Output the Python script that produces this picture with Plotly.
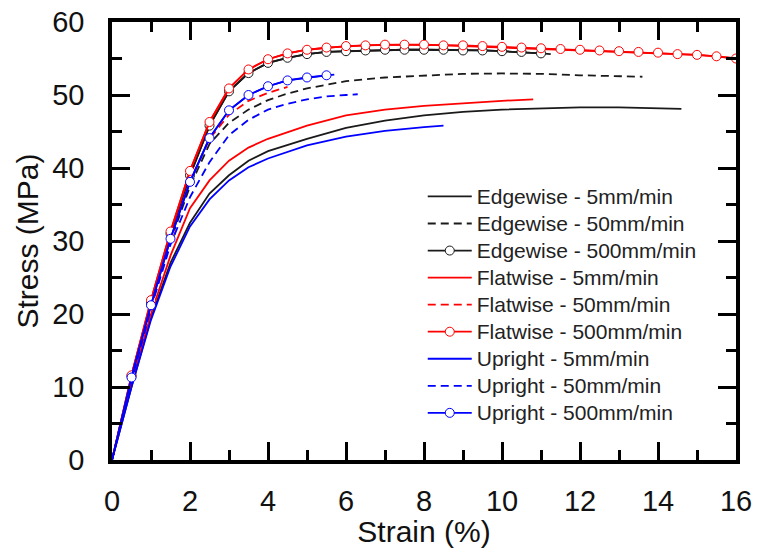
import plotly.graph_objects as go

# ---- data (strain %, stress MPa) ----
edge5_x = [0, 0.5, 1.0, 1.5, 2.0, 2.5, 3.0, 3.5, 4.0, 5, 6, 7, 8, 9, 10, 11, 12, 13, 14, 14.6]
edge5_y = [0, 10, 19.5, 27, 32.5, 36.5, 39, 41, 42.3, 44, 45.5, 46.5, 47.2, 47.7, 48, 48.2, 48.3, 48.3, 48.2, 48.1]

edge50_x = [0, 0.5, 1, 1.5, 2, 2.5, 3, 3.5, 4, 4.5, 5, 6, 7, 8, 9, 10, 11, 12, 13, 13.6]
edge50_y = [0, 11, 21, 30, 37.5, 43.3, 46.2, 48, 49.3, 50.2, 50.9, 51.9, 52.4, 52.7, 52.9, 52.95, 52.9, 52.7, 52.6, 52.5]

edge500_x = [0, 0.5, 1, 1.5, 2, 2.5, 3, 3.5, 4, 4.5, 5, 5.5, 6, 6.5, 7, 7.5, 8, 8.5, 9, 9.5, 10, 10.5, 11, 11.25]
edge500_y = [0, 11.5, 21.5, 31, 39, 45.8, 50.5, 53.0, 54.4, 55.1, 55.6, 55.9, 56.0, 56.1, 56.2, 56.2, 56.2, 56.2, 56.1, 56.1, 56.0, 55.9, 55.7, 55.6]

flat5_x = [0, 0.5, 1.0, 1.5, 2.0, 2.5, 3.0, 3.5, 4.0, 5, 6, 7, 8, 9, 10, 10.8]
flat5_y = [0, 10.5, 20, 28, 34.5, 38.3, 41, 42.8, 44, 45.8, 47.2, 48.0, 48.5, 48.9, 49.2, 49.4]

flat50_x = [0, 0.5, 1, 1.5, 2, 2.5, 3, 3.5, 4, 4.5]
flat50_y = [0, 11.2, 21.3, 30.5, 38.2, 44, 47.3, 49.2, 50.3, 51.1]

flat500_x = [0, 0.5, 1, 1.5, 2, 2.5, 3, 3.5, 4, 4.5, 5, 5.5, 6, 6.5, 7, 7.5, 8, 8.5, 9, 9.5,
             10, 10.5, 11, 11.5, 12, 12.5, 13, 13.5, 14, 14.5, 15, 15.5, 16]
flat500_y = [0, 11.6, 21.9, 31.3, 39.6, 46.3, 50.9, 53.5, 54.9, 55.7, 56.2, 56.5, 56.7, 56.8, 56.9, 56.9, 56.9, 56.8, 56.8, 56.7,
             56.6, 56.5, 56.4, 56.3, 56.2, 56.1, 56.0, 55.9, 55.8, 55.6, 55.5, 55.3, 55.0]

up5_x = [0, 0.5, 1.0, 1.5, 2.0, 2.5, 3.0, 3.5, 4.0, 5, 6, 7, 8, 8.5]
up5_y = [0, 10, 19.2, 26.5, 32, 35.7, 38.3, 40.1, 41.3, 43.1, 44.3, 45.1, 45.6, 45.8]

up50_x = [0, 0.5, 1, 1.5, 2, 2.5, 3, 3.5, 4, 4.5, 5, 5.5, 6, 6.3]
up50_y = [0, 10.8, 20.8, 29.5, 36, 40.8, 44.5, 46.6, 48, 48.8, 49.4, 49.8, 50.0, 50.1]

up500_x = [0, 0.5, 1, 1.5, 2, 2.5, 3, 3.5, 4, 4.5, 5, 5.5, 5.7]
up500_y = [0, 11.3, 21.2, 30.3, 38.1, 44.1, 47.9, 50.0, 51.2, 52.0, 52.4, 52.7, 52.8]

x_ticks = [0, 2, 4, 6, 8, 10, 12, 14, 16]
y_ticks = [0, 10, 20, 30, 40, 50, 60]

BLACK = "#1a1a1a"
RED = "#ff0000"
BLUE = "#0000ff"
DASH = "8px,5px"
FONT = "Liberation Sans, Arial, sans-serif"

series = [
    ("Edgewise - 5mm/min", edge5_x, edge5_y, BLACK, "solid", False),
    ("Edgewise - 50mm/min", edge50_x, edge50_y, BLACK, DASH, False),
    ("Edgewise - 500mm/min", edge500_x, edge500_y, BLACK, "solid", True),
    ("Flatwise - 5mm/min", flat5_x, flat5_y, RED, "solid", False),
    ("Flatwise - 50mm/min", flat50_x, flat50_y, RED, DASH, False),
    ("Flatwise - 500mm/min", flat500_x, flat500_y, RED, "solid", True),
    ("Upright - 5mm/min", up5_x, up5_y, BLUE, "solid", False),
    ("Upright - 50mm/min", up50_x, up50_y, BLUE, DASH, False),
    ("Upright - 500mm/min", up500_x, up500_y, BLUE, "solid", True),
]


def label(name):
    return '<span style="font-size:21px">' + name + '</span>'


fig = go.Figure()
for name, xs, ys, col, dash, mk in series:
    if not mk:
        fig.add_trace(go.Scatter(x=xs, y=ys, name=label(name), mode="lines",
                                 line=dict(color=col, width=1.8, dash=dash)))
    else:
        fig.add_trace(go.Scatter(x=xs, y=ys, mode="lines", showlegend=False,
                                 legendgroup=name, hoverinfo="skip",
                                 line=dict(color=col, width=1.8)))
        mx = [v for v in xs if v > 0 and abs(v * 2 - round(v * 2)) < 1e-9]
        my = [ys[xs.index(v)] for v in mx]
        fig.add_trace(go.Scatter(x=mx, y=my, name=label(name), legendgroup=name,
                                 mode="lines+markers",
                                 line=dict(color=col, width=1.8),
                                 marker=dict(symbol="circle", size=9, color="white",
                                             line=dict(color=col, width=1))))

axis_common = dict(
    showline=True, linecolor="black", linewidth=3.5, mirror="ticks",
    ticks="inside", ticklen=18, tickwidth=3, tickcolor="black",
    showgrid=False, zeroline=False, ticklabeloverflow="allow",
    tickfont=dict(family=FONT, size=29, color="#111111"),
)

fig.update_xaxes(range=[0, 16], tickmode="array", tickvals=x_ticks, ticktext=[str(v) for v in x_ticks],
                 minor=dict(ticks="inside", ticklen=10, tickwidth=3, tickcolor="black",
                            tickmode="linear", tick0=0, dtick=1, showgrid=False),
                 ticklabelstandoff=12,
                 title=dict(text="Strain (%)", font=dict(family=FONT, size=30, color="#111111"), standoff=0),
                 **axis_common)
fig.update_yaxes(range=[0, 60], tickmode="array", tickvals=y_ticks, ticktext=[str(v) for v in y_ticks],
                 minor=dict(ticks="inside", ticklen=10, tickwidth=3, tickcolor="black",
                            tickmode="linear", tick0=0, dtick=5, showgrid=False),
                 ticklabelstandoff=18,
                 title=dict(text="Stress (MPa)", font=dict(family=FONT, size=30, color="#111111"), standoff=6),
                 **axis_common)

fig.update_layout(
    width=770, height=548,
    margin=dict(l=112, r=34, t=22, b=88, autoexpand=False),
    paper_bgcolor="white", plot_bgcolor="white",
    showlegend=True,
    legend=dict(x=0.498, y=0.644, xanchor="left", yanchor="top",
                bgcolor="rgba(0,0,0,0)", borderwidth=0,
                font=dict(family=FONT, size=18.5, color="#222222"),
                itemwidth=44, tracegroupgap=0, traceorder="normal"),
)

fig.write_html("out.html", config={"displayModeBar": False},
               post_script="document.body.style.margin='0';")
